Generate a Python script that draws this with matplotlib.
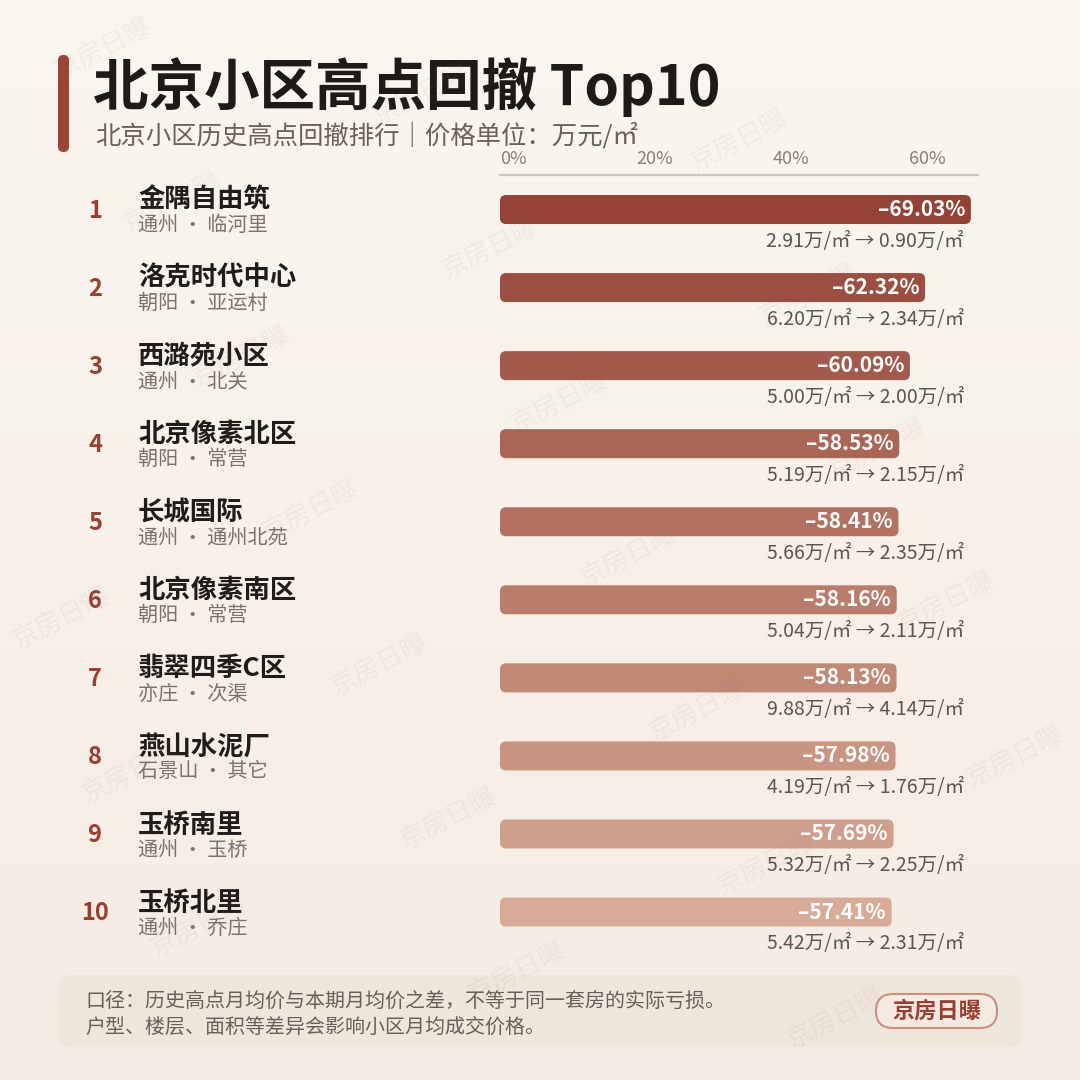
import matplotlib
matplotlib.use("Agg")
import matplotlib.pyplot as plt
import matplotlib.transforms as mtransforms
from matplotlib.patches import FancyBboxPatch
import matplotlib.colors as mcolors
import numpy as np

plt.rcParams['font.family'] = ['Noto Sans CJK SC', 'DejaVu Sans']

# ---------------- data ----------------
ranks = [1, 2, 3, 4, 5, 6, 7, 8, 9, 10]
names = ['金隅自由筑', '洛克时代中心', '西潞苑小区', '北京像素北区', '长城国际',
         '北京像素南区', '翡翠四季C区', '燕山水泥厂', '玉桥南里', '玉桥北里']
districts = ['通州', '朝阳', '通州', '朝阳', '通州', '朝阳', '亦庄', '石景山', '通州', '通州']
areas = ['临河里', '亚运村', '北关', '常营', '通州北苑', '常营', '次渠', '其它', '玉桥', '乔庄']
drops = [69.03, 62.32, 60.09, 58.53, 58.41, 58.16, 58.13, 57.98, 57.69, 57.41]
peak_prices = [2.91, 6.20, 5.00, 5.19, 5.66, 5.04, 9.88, 4.19, 5.32, 5.42]
now_prices = [0.90, 2.34, 2.00, 2.15, 2.35, 2.11, 4.14, 1.76, 2.25, 2.31]
tick_values = [0, 20, 40, 60]
tick_labels = ['0%', '20%', '40%', '60%']

title = '北京小区高点回撤 Top10'
subtitle = '北京小区历史高点回撤排行｜价格单位：万元/㎡'
note_lines = ['口径：历史高点月均价与本期月均价之差，不等于同一套房的实际亏损。',
              '户型、楼层、面积等差异会影响小区月均成交价格。']
brand = '京房日曝'

# ---------------- figure ----------------
W = H = 1080
fig = plt.figure(figsize=(10.8, 10.8), dpi=100)

bg = fig.add_axes([0, 0, 1, 1], zorder=0)
bg.set_xlim(0, W)
bg.set_ylim(H, 0)
bg.axis('off')
grad = np.linspace(0, 1, 256)[:, None]
c_top = np.array(mcolors.to_rgb('#faf6f0'))
c_bot = np.array(mcolors.to_rgb('#f4ece3'))
img = c_top[None, None, :] * (1 - grad[..., None]) + c_bot[None, None, :] * grad[..., None]
img = np.repeat(img, 2, axis=1)
bg.imshow(img, extent=(0, W, H, 0), aspect='auto', zorder=0)

# title accent bar
bg.add_patch(FancyBboxPatch((58, 55), 11, 97, boxstyle="round,pad=0,rounding_size=5.5",
                            facecolor='#9e4235', edgecolor='none', zorder=2))
bg.text(93, 87, title, fontsize=40, fontweight='bold', color='#1f1a17',
        ha='left', va='center', zorder=3)
bg.text(95, 136, subtitle, fontsize=18.3, color='#6b605a', ha='left', va='center', zorder=3)

# footer
bg.add_patch(FancyBboxPatch((58, 975), 964, 72, boxstyle="round,pad=0,rounding_size=14",
                            facecolor='#eee5db', edgecolor='none', zorder=2))
bg.text(85, 1001, note_lines[0], fontsize=14.4, color='#6a5f58', ha='left', va='center', zorder=3)
bg.text(85, 1027, note_lines[1], fontsize=14.4, color='#6a5f58', ha='left', va='center', zorder=3)
bg.add_patch(FancyBboxPatch((876, 994), 121, 34, boxstyle="round,pad=0,rounding_size=17",
                            facecolor='#f3ebe2', edgecolor='#c98f80', linewidth=1.5, zorder=3))
bg.text(936.5, 1011, brand, fontsize=16, fontweight='bold', color='#9b3d30',
        ha='center', va='center', zorder=4)

# ---------------- bars axes ----------------
x0_px, x1_px = 500, 977.5
top_px, bot_px = 175, 960
row0_px, row_step = 209.5, 78.06
ax = fig.add_axes([x0_px / W, (H - bot_px) / H, (x1_px - x0_px) / W, (bot_px - top_px) / H],
                  zorder=1)
ax.set_facecolor('none')
xmax = 70
ax.set_xlim(0, xmax)
ymin = -(row0_px - top_px) / row_step
ymax = 9 + (bot_px - (row0_px + 9 * row_step)) / row_step
ax.set_ylim(ymax, ymin)

for s in ['left', 'right', 'bottom']:
    ax.spines[s].set_visible(False)
ax.spines['top'].set_color('#cfc6bb')
ax.spines['top'].set_linewidth(1.6)
ax.set_yticks([])
ax.xaxis.tick_top()
ax.set_xticks(tick_values)
ax.set_xticklabels(tick_labels)
ax.tick_params(axis='x', length=0, pad=5, labelsize=13, labelcolor='#8a7f78')
for lbl in ax.get_xticklabels():
    lbl.set_ha('left')

px_per_x = (x1_px - x0_px) / xmax
bar_h = 29 / row_step
r_px = 6
rounding = r_px / px_per_x
m_aspect = px_per_x / row_step

c_dark = np.array(mcolors.to_rgb('#944236'))
c_light = np.array(mcolors.to_rgb('#d8ab96'))
n = len(drops)
trans_left = mtransforms.blended_transform_factory(fig.transFigure, ax.transData)

for i, (rk, nm, d, a, v, p, q) in enumerate(zip(ranks, names, districts, areas,
                                                 drops, peak_prices, now_prices)):
    t = i / (n - 1)
    col = c_dark * (1 - t) + c_light * t
    ax.add_patch(FancyBboxPatch((0, i - bar_h / 2), v, bar_h,
                                boxstyle=f"round,pad=0,rounding_size={rounding}",
                                mutation_aspect=m_aspect,
                                facecolor=col, edgecolor='none', zorder=2))
    ax.text(v - 6 / px_per_x, i, f'–{v:.2f}%', fontsize=15, fontweight='bold',
            color='white', ha='right', va='center', zorder=3)
    ax.text((964 - x0_px) / px_per_x, i + 31.5 / row_step,
            f'{p:.2f}万/㎡ → {q:.2f}万/㎡', fontsize=14, color='#5e544e',
            ha='right', va='center', zorder=3)
    ax.text(95 / W, i + 1 / row_step, str(rk), transform=trans_left, fontsize=17,
            color='#9b3d30', ha='center', va='center', fontweight='bold')
    ax.text(138 / W, i - 9 / row_step, nm, transform=trans_left, fontsize=19,
            fontweight='bold', color='#211c1a', ha='left', va='center')
    ax.text(138 / W, i + 16 / row_step, f'{d} · {a}', transform=trans_left, fontsize=14.5,
            color='#7d726b', ha='left', va='center')

# ---------------- watermark overlay ----------------
ov = fig.add_axes([0, 0, 1, 1], zorder=5)
ov.set_xlim(0, W)
ov.set_ylim(H, 0)
ov.axis('off')
ov.patch.set_alpha(0)
origin = np.array([310, 510])
va_ = np.array([318, 46])
vb_ = np.array([69, 154])
for i in range(-5, 6):
    for j in range(-6, 7):
        x, y = origin + i * va_ + j * vb_
        if 60 < x < W - 60 and 35 < y < H - 35:
            ov.text(x, y, brand, fontsize=19, rotation=27, color='#8c6f60', alpha=0.08,
                    ha='center', va='center', rotation_mode='anchor')

fig.savefig('out.png', dpi=100)
